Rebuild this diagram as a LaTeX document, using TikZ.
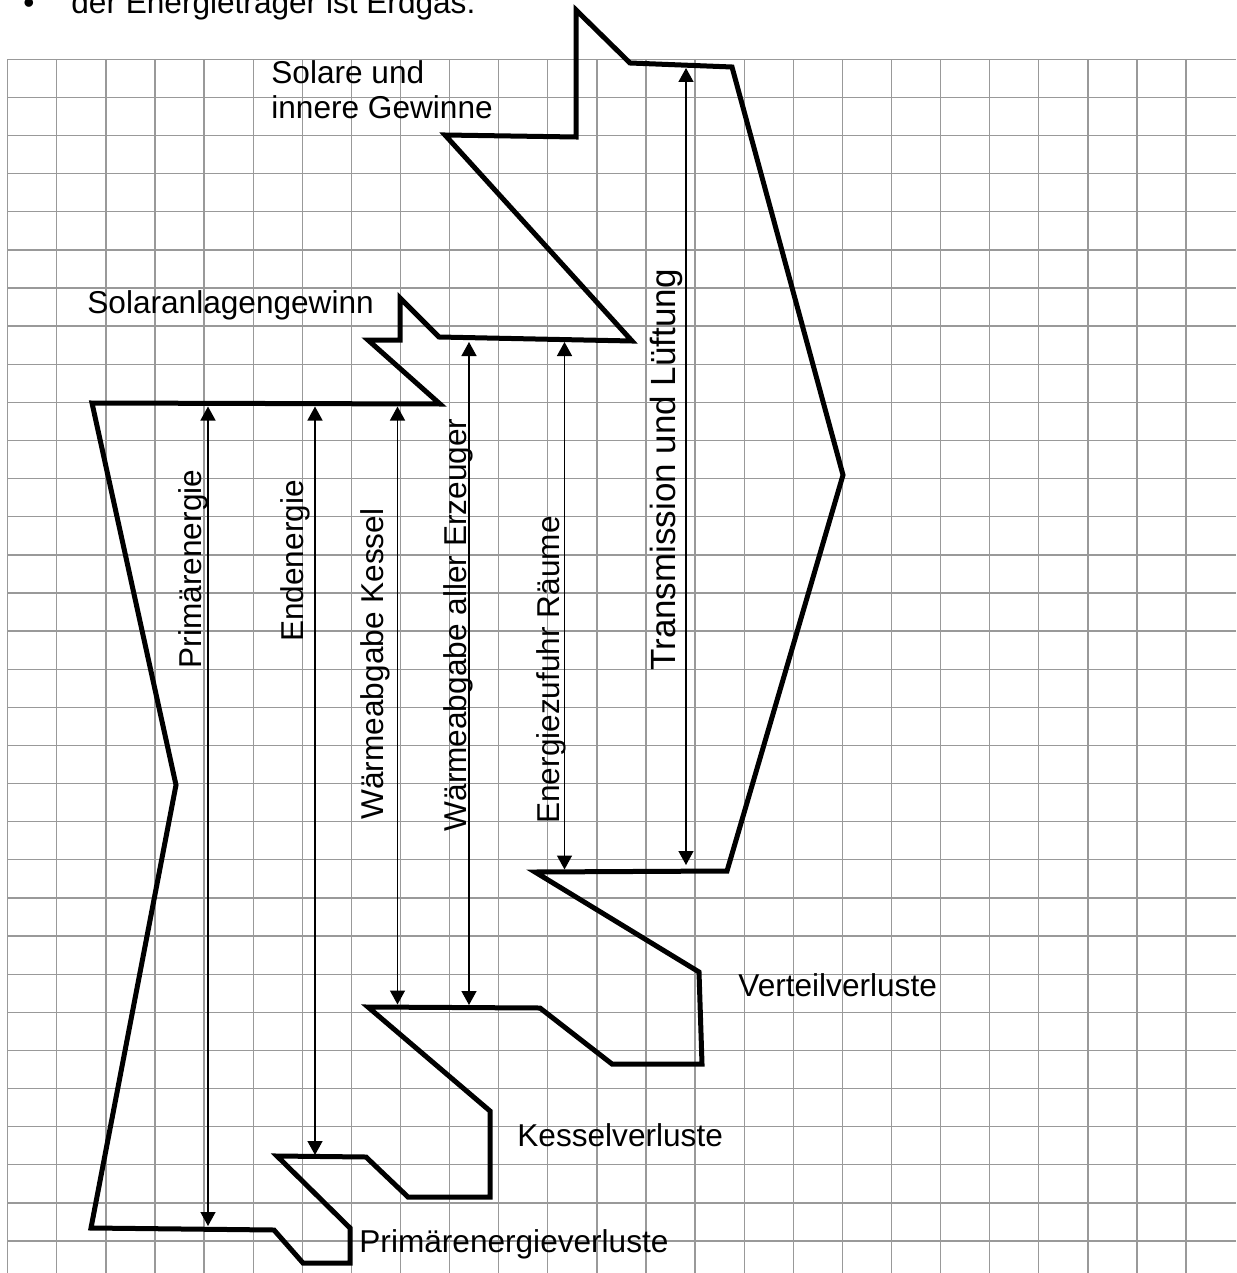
\documentclass[tikz,border=0pt]{standalone}
\usepackage{fontspec}
\setmainfont{Liberation Sans}
\usetikzlibrary{arrows.meta}

\begin{document}
\begin{tikzpicture}[x=0.5pt,y=-0.5pt,line join=miter,
    >={Triangle[length=7pt,width=7.5pt]},
    gitter/.style={draw=black!40,line width=0.65pt},
    umriss/.style={draw=black,line width=2.5pt},
    pfeil/.style={<->,line width=0.7pt},
    beschr/.style={inner sep=0pt,font=\fontsize{15.8}{17.9}\selectfont}]
        \useasboundingbox (0,0) rectangle (1236,1273);
        % Kaestchen
        \foreach \i in {0,...,24}
            \draw [gitter] ({7.7+49.1*\i},59.3)-- ({7.7+49.1*\i},1273);
        \foreach \j in {0,...,31}
            \draw [gitter] (7.7,{59.3+38.12*\j})-- (1236,{59.3+38.12*\j});
        % Umriss des Energieflusses
        \draw [umriss] (92,403)-- (440,404)-- (368,340)-- (400,340)-- (400,298)
            -- (439,337)-- (632,341)-- (445,135)-- (576,137)-- (576,10)
            -- (630,63)-- (732,67)-- (843,475)-- (727,871)-- (535,872)
            -- (699,972)-- (702,1064)-- (612,1064)-- (540,1008)-- (368,1007)
            -- (490,1111)-- (490,1197)-- (408,1197)-- (366,1157)-- (277,1156)
            -- (350,1228)-- (350,1263)-- (303,1263)-- (274,1230)-- (91,1228)
            -- (176,785)-- cycle;
        % Pfeilenden
        \coordinate (pe1) at (208,406.5);
        \coordinate (pe2) at (208,1226);
        \coordinate (ee1) at (315,406.5);
        \coordinate (ee2) at (315,1155);
        \coordinate (wk1) at (397.5,406.5);
        \coordinate (wk2) at (397.5,1004.5);
        \coordinate (wa1) at (469,342);
        \coordinate (wa2) at (469,1005);
        \coordinate (ez1) at (564.5,342);
        \coordinate (ez2) at (564.5,869.5);
        \coordinate (tl1) at (686,68);
        \coordinate (tl2) at (686,865);
        \draw [pfeil] (pe1)-- (pe2);
        \draw [pfeil] (ee1)-- (ee2);
        \draw [pfeil] (wk1)-- (wk2);
        \draw [pfeil] (wa1)-- (wa2);
        \draw [pfeil] (ez1)-- (ez2);
        \draw [pfeil] (tl1)-- (tl2);
        % Beschriftungen
        \node [beschr,rotate=90,anchor=base] (pe) at (201,569) {Primärenergie};
        \node [beschr,rotate=90,anchor=base] (ee) at (303,561) {Endenergie};
        \node [beschr,rotate=90,anchor=base] (wk) at (383,664) {Wärmeabgabe Kessel};
        \node [beschr,rotate=90,anchor=base] (wa) at (466,625) {Wärmeabgabe aller Erzeuger};
        \node [beschr,rotate=90,anchor=base] (ez) at (559,670) {Energiezufuhr Räume};
        \node [beschr,rotate=90,anchor=base,font=\fontsize{17.5}{20}\selectfont] (tl) at (675,470) {Transmission und Lüftung};
        \node [beschr,anchor=base west] (sag) at (87,313) {Solaranlagengewinn};
        \node [beschr,anchor=base west,align=left] (sig) at (271,119) {Solare und\\innere Gewinne};
        \node [beschr,anchor=base west] (vv) at (738,996) {Verteilverluste};
        \node [beschr,anchor=base west] (kv) at (517,1146) {Kesselverluste};
        \node [beschr,anchor=base west] (pev) at (359,1252) {Primärenergieverluste};
        \node [beschr,anchor=base west] (pkt) at (23,14) {•};
        \node [beschr,anchor=base west] (eg) at (71,14) {der Energieträger ist Erdgas.};
\end{tikzpicture}
\end{document}
